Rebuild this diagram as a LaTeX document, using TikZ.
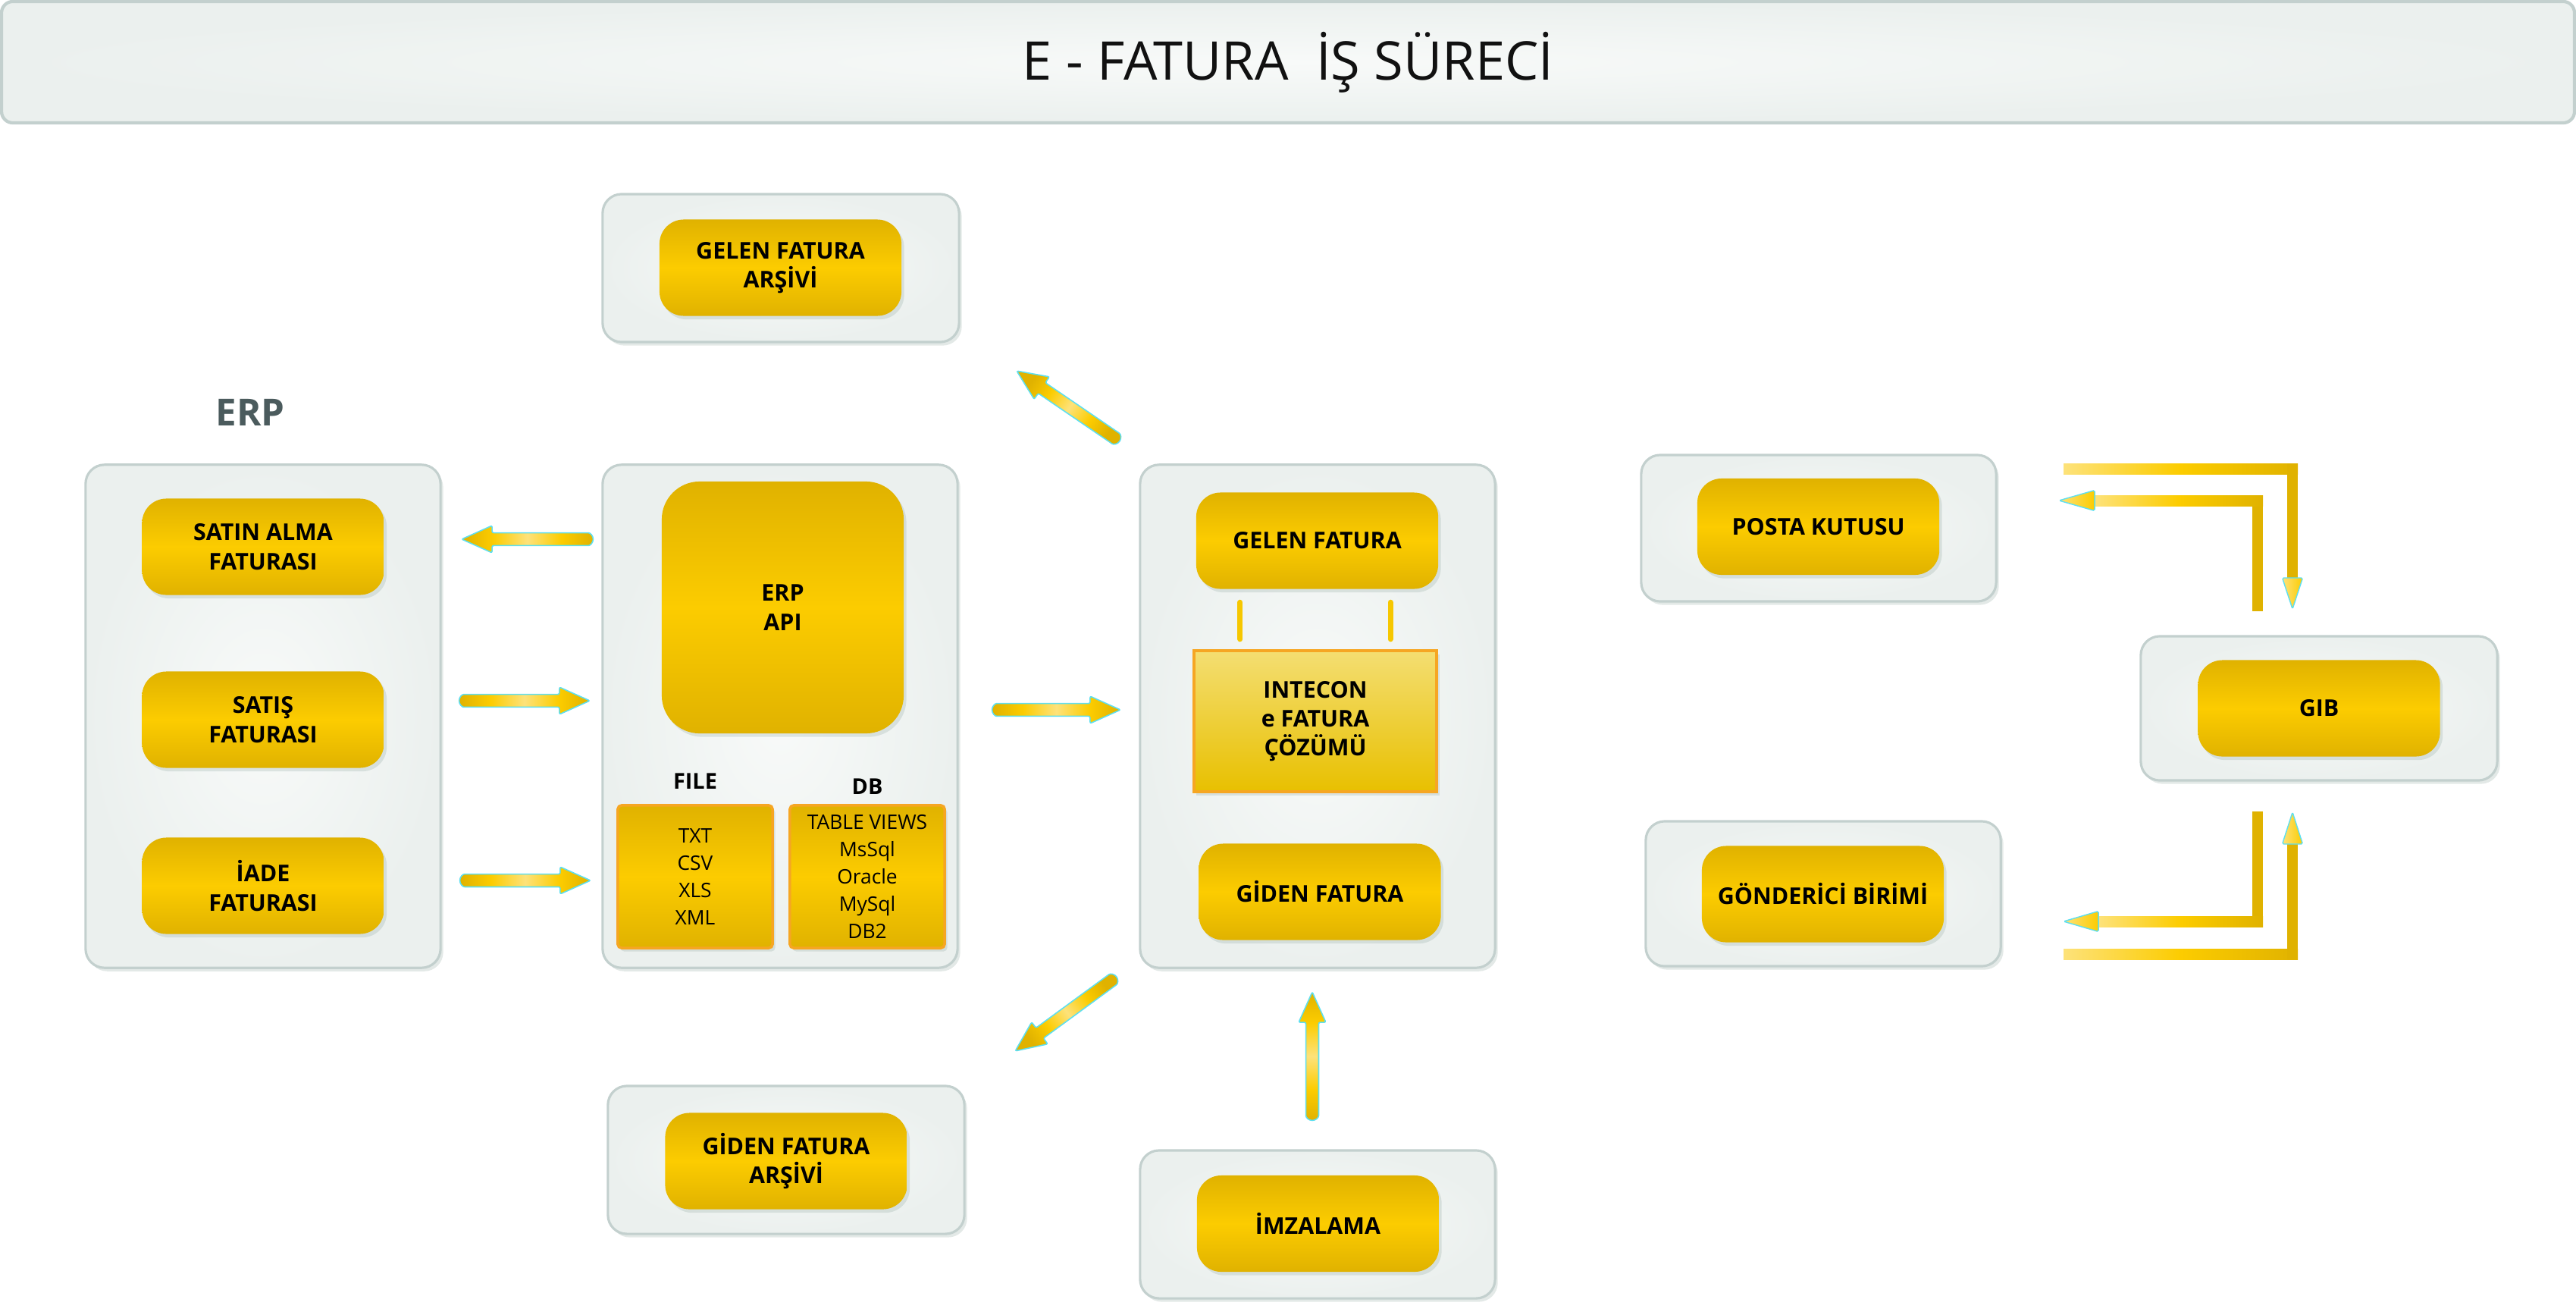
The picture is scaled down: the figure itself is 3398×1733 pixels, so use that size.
\documentclass[tikz,border=0pt]{standalone}
\usepackage{fontspec}
\setmainfont{Open Sans}
\usetikzlibrary{shadows,calc}
\definecolor{contfill}{HTML}{EBF0EE}
\definecolor{contin}{HTML}{F8FAF9}
\definecolor{contline}{HTML}{C3D0CE}
\definecolor{shadowc}{HTML}{8FA79F}
\definecolor{golddark}{HTML}{E0B200}
\definecolor{goldmid}{HTML}{FCCC00}
\definecolor{goldlight}{HTML}{FDE27A}
\definecolor{intetop}{HTML}{F4DE72}
\definecolor{intebot}{HTML}{E8C000}
\definecolor{cyanline}{HTML}{5EDFF0}
\definecolor{orangeline}{HTML}{F6A623}
\definecolor{erpgray}{HTML}{4B5B5D}
\definecolor{titletext}{HTML}{111111}
\pgfdeclarehorizontalshading{fatshade}{100bp}{color(0bp)=(golddark); color(25bp)=(golddark); color(37bp)=(goldmid); color(50bp)=(goldlight); color(63bp)=(goldmid); color(75bp)=(golddark); color(100bp)=(golddark)}
\newcommand\labelfont{\bfseries\fontsize{8.65pt}{10.9pt}\selectfont}
\newcommand\fatarrow[2]{%
  \path (#1); \pgfgetlastxy{\fax}{\fay}%
  \path (#2); \pgfgetlastxy{\fbx}{\fby}%
  \pgfmathsetmacro\faang{atan2((\fby)-(\fay),(\fbx)-(\fax))}%
  \pgfmathsetmacro\falen{veclen((\fbx)-(\fax),(\fby)-(\fay))}%
  \pgfmathsetmacro\fab{\falen-11.4}%
  \begin{scope}[shift={(#1)}, rotate=\faang, x=1pt, y=1pt]
    \path[draw=cyanline, line width=0.45pt, shade, shading=fatshade, shading angle=\faang, rounded corners=0.6pt]
      (0,2.4) arc[start angle=90, end angle=270, radius=2.4] -- (\fab,-2.4) -- (\fab,-5.1) -- (\falen,0) -- (\fab,5.1) -- (\fab,2.4) -- cycle;
  \end{scope}}
\tikzset{
  myshadow/.style={drop shadow={shadow xshift=1pt, shadow yshift=-1.3pt, opacity=0.25, fill=shadowc, shade=false}},
  container/.style={draw=contline, line width=0.9pt, rounded corners=0.25cm, inner color=contin, outer color=contfill, myshadow, minimum width=4.68cm, inner sep=0pt},
  goldbox/.style={rounded corners=0.32cm, top color=golddark, bottom color=golddark, middle color=goldmid, text=black, font=\labelfont, align=center, minimum width=3.19cm, minimum height=1.27cm, inner sep=0pt, myshadow},
  listbox/.style={rounded corners=0.05cm, draw=orangeline, line width=1pt, top color=golddark, bottom color=golddark, middle color=goldmid, text=black, font=\fontsize{7.5pt}{10.2pt}\selectfont, align=center, minimum width=2.04cm, minimum height=1.88cm, inner sep=0pt, myshadow},
  smalllabel/.style={font=\bfseries\fontsize{8.2pt}{10pt}\selectfont, text=black, inner sep=0pt},
  linkbar/.style={line width=2pt, line cap=round, draw=goldmid!80!golddark},
  lhead/.style={draw=cyanline, line width=0.4pt, left color=goldlight, right color=goldmid, rounded corners=0.5pt},
  hbar/.style={left color=goldlight, right color=golddark, middle color=goldmid},
}
\begin{document}
\begin{tikzpicture}[x=0.01cm, y=-0.01cm]
\useasboundingbox (0,0) rectangle (3398,1733);
% title
\node[draw=contline, line width=1.2pt, rounded corners=0.15cm, inner color=contin, outer color=contfill, minimum width=33.92cm, minimum height=1.6cm, inner sep=0pt, font=\fontsize{20pt}{24pt}\selectfont, text=titletext] (title) at (1699,82) {E - FATURA~ İŞ SÜRECİ};
% ERP column
\node[font=\bfseries\fontsize{14pt}{16pt}\selectfont, text=erpgray, inner sep=0pt] (erplbl) at (330,544) {ERP};
\node[container, minimum height=6.63cm] (cerp) at (347,944.5) {};
\node[goldbox] (satin) at (347,721) {SATIN ALMA\\FATURASI};
\node[goldbox] (satis) at (347,949) {SATIŞ\\FATURASI};
\node[goldbox] (iade) at (347,1168) {İADE\\FATURASI};
% API column
\node[container, minimum height=6.63cm] (capi) at (1029,944.5) {};
\node[goldbox, rounded corners=0.5cm, minimum height=3.32cm] (api) at (1032.5,801) {ERP\\API};
\node[smalllabel] (filelbl) at (917,1030) {FILE};
\node[smalllabel] (dblbl) at (1144,1037) {DB};
\node[listbox] (filebox) at (917,1156) {TXT\\CSV\\XLS\\XML};
\node[listbox] (dbbox) at (1144,1156) {TABLE VIEWS\\MsSql\\Oracle\\MySql\\DB2};
% archives
\node[container, minimum width=4.70cm, minimum height=1.95cm] (cgelarsiv) at (1030,353.5) {};
\node[goldbox] (gelarsiv) at (1029.5,353) {GELEN FATURA\\ARŞİVİ};
\node[container, minimum width=4.70cm, minimum height=1.95cm] (cgidarsiv) at (1037,1529.5) {};
\node[goldbox] (gidarsiv) at (1037,1531) {GİDEN FATURA\\ARŞİVİ};
% INTECON column
\node[container, minimum height=6.63cm] (cint) at (1738,944.5) {};
\node[goldbox] (gelen) at (1737.5,713) {GELEN FATURA};
\node[draw=orangeline, line width=1.2pt, top color=intetop, bottom color=intebot, minimum width=3.20cm, minimum height=1.86cm, inner sep=0pt, font=\labelfont, align=center, myshadow] (intecon) at (1735,951) {INTECON\\e FATURA\\ÇÖZÜMÜ};
\node[goldbox] (giden) at (1741,1176) {GİDEN FATURA};
\coordinate (lk1) at ([xshift=-1.015cm,yshift=-0.17cm]gelen.south);
\coordinate (lk2) at ([xshift=0.965cm,yshift=-0.17cm]gelen.south);
\draw[linkbar] (lk1) -- ([yshift=0.13cm]lk1 |- intecon.north);
\draw[linkbar] (lk2) -- ([yshift=0.13cm]lk2 |- intecon.north);
\node[container, minimum height=1.95cm] (cimza) at (1738,1614.5) {};
\node[goldbox] (imza) at (1738.5,1613.5) {İMZALAMA};
% right side
\node[container, minimum height=1.93cm] (cposta) at (2399,696.5) {};
\node[goldbox] (posta) at (2398.5,694.5) {POSTA KUTUSU};
\node[container, minimum height=1.91cm] (cgond) at (2405,1178.5) {};
\node[goldbox] (gond) at (2404.5,1179) {GÖNDERİCİ BİRİMİ};
\node[container, minimum width=4.70cm, minimum height=1.90cm] (cgib) at (3059,934) {};
\node[goldbox] (gib) at (3059,934) {GIB};
% fat arrows
\coordinate (a1s) at (774,711);   \coordinate (a1e) at (609,711);
\coordinate (a2s) at (614,924);   \coordinate (a2e) at (778,924);
\coordinate (a3s) at (615,1161);  \coordinate (a3e) at (779,1161);
\coordinate (a4s) at (1317,936);  \coordinate (a4e) at (1478,936);
\coordinate (a5s) at (1470,577);  \coordinate (a5e) at (1341,489);
\coordinate (a6s) at (1466,1293); \coordinate (a6e) at (1339,1386);
\coordinate (a7s) at (1731,1469); \coordinate (a7e) at (1731,1308);
\fatarrow{a1s}{a1e}
\fatarrow{a2s}{a2e}
\fatarrow{a3s}{a3e}
\fatarrow{a4s}{a4e}
\fatarrow{a5s}{a5e}
\fatarrow{a6s}{a6e}
\fatarrow{a7s}{a7e}
% L connectors: posta <-> gib
\coordinate (po1) at (2722,618); \coordinate (po2) at (3024,618); \coordinate (po3) at (3024,803);
\shade[hbar] ($(po1)+(0,-7)$) rectangle ($(po2)+(7,7)$);
\fill[golddark] ($(po2)+(-7,-7)$) rectangle ($(po3)+(7,-41)$);
\path[lhead] (po3) -- ($(po3)+(-13.5,-41)$) -- ($(po3)+(13.5,-41)$) -- cycle;
\coordinate (pi1) at (2978,806); \coordinate (pi2) at (2978,660); \coordinate (pi3) at (2716,660);
\fill[golddark] ($(pi1)+(-7,0)$) rectangle ($(pi2)+(7,-7)$);
\shade[hbar] ($(pi3)+(47,-7)$) rectangle ($(pi2)+(7,7)$);
\path[lhead] (pi3) -- ($(pi3)+(47,-13.5)$) -- ($(pi3)+(47,13.5)$) -- cycle;
% L connectors: gib <-> gonderici
\coordinate (gi1) at (2978,1070); \coordinate (gi2) at (2978,1215); \coordinate (gi3) at (2722,1215);
\fill[golddark] ($(gi1)+(-7,0)$) rectangle ($(gi2)+(7,7)$);
\shade[hbar] ($(gi3)+(46,-7)$) rectangle ($(gi2)+(7,7)$);
\path[lhead] (gi3) -- ($(gi3)+(46,-13.5)$) -- ($(gi3)+(46,13.5)$) -- cycle;
\coordinate (go1) at (2722,1258); \coordinate (go2) at (3024,1258); \coordinate (go3) at (3024,1071);
\shade[hbar] ($(go1)+(0,-7)$) rectangle ($(go2)+(7,7)$);
\fill[golddark] ($(go2)+(-7,7)$) rectangle ($(go3)+(7,42)$);
\path[lhead] (go3) -- ($(go3)+(-13.5,42)$) -- ($(go3)+(13.5,42)$) -- cycle;
\end{tikzpicture}
\end{document}
